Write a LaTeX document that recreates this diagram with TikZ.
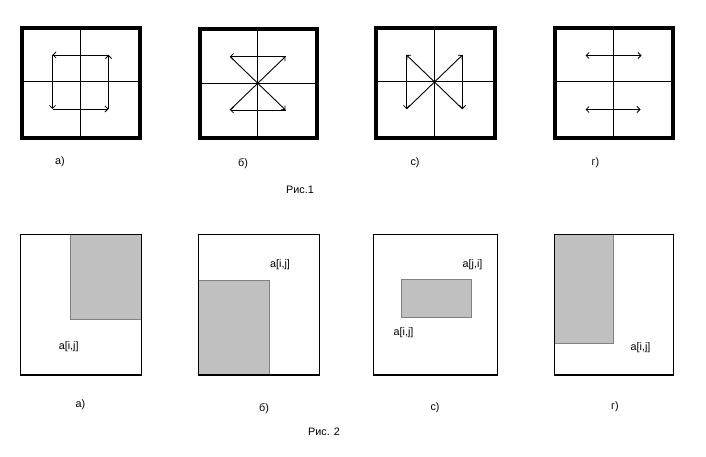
\documentclass[tikz,border=0pt]{standalone}
\usepackage{fontspec}
\setmainfont{Liberation Sans}
\usetikzlibrary{arrows.meta}
\begin{document}
\begin{tikzpicture}[x=1pt,y=-1pt,
  thickbox/.style={draw=black,line width=4pt},
  thinline/.style={draw=black,line width=1pt},
  arr/.style={draw=black,line width=0.9pt,-{Straight Barb[length=3pt,width=6pt,line width=0.8pt]}},
  darr/.style={draw=black,line width=0.9pt,{Straight Barb[length=3pt,width=6pt,line width=0.8pt]}-{Straight Barb[length=3pt,width=6pt,line width=0.8pt]}},
  outerbox/.style={draw=black,line width=1.3pt},
  grayrect/.style={fill={rgb,255:red,192;green,192;blue,192},draw={rgb,255:red,128;green,128;blue,128},line width=1.2pt},
  lbl/.style={font=\fontsize{10.8}{13}\selectfont,inner sep=0pt}]
\useasboundingbox (0,0) rectangle (706,457);
% ---------- Fig 1 ----------
% a
\draw[thickbox] (22,28) rectangle (140,138);
\draw[thinline] (80.5,28) -- (80.5,138) (22,82) -- (140,82);
\coordinate (a1) at (52.5,55);\coordinate (a2) at (108.5,55);
\coordinate (a3) at (52.5,109);\coordinate (a4) at (108.5,109);
\draw[arr] (a2) -- (a1);
\draw[arr] (a1) -- (a3);
\draw[arr] (a3) -- (a4);
\draw[arr] (a4) -- (a2);
% b
\draw[thickbox] (199.5,29) rectangle (317,138.5);
\draw[thinline] (257.5,29) -- (257.5,138.5) (199.5,83.5) -- (317,83.5);
\coordinate (b1) at (230,56.5);\coordinate (b2) at (285.5,56.5);
\coordinate (b3) at (230,110);\coordinate (b4) at (285.5,110);
\draw[arr] (b2) -- (b1);
\draw[arr] (b1) -- (b4);
\draw[arr] (b4) -- (b3);
\draw[arr] (b3) -- (b2);
% c
\draw[thickbox] (376,28) rectangle (494.5,138);
\draw[thinline] (434.5,28) -- (434.5,138) (376,82) -- (494.5,82);
\coordinate (c1) at (406.5,55);\coordinate (c2) at (462.5,55);
\coordinate (c3) at (406.5,109);\coordinate (c4) at (462.5,109);
\draw[arr] (c1) -- (c3);
\draw[arr] (c3) -- (c2);
\draw[arr] (c2) -- (c4);
\draw[arr] (c4) -- (c1);
% g
\draw[thickbox] (555,28) rectangle (672.5,138);
\draw[thinline] (613.5,28) -- (613.5,138) (555,82) -- (672.5,82);
\coordinate (g1) at (585.5,55.5);\coordinate (g2) at (641.5,55.5);
\coordinate (g3) at (585.5,109.5);\coordinate (g4) at (640.5,109.5);
\draw[darr] (g1) -- (g2);
\draw[darr] (g3) -- (g4);
\node[lbl] (la1) at (60,162) {а)};
\node[lbl] (lb1) at (243,164) {б)};
\node[lbl] (lc1) at (415,163) {с)};
\node[lbl] (lg1) at (595.5,163) {г)};
\node[lbl] (r1) at (300,190) {Рис.1};
% ---------- Fig 2 ----------
% a
\draw[grayrect] (70.3,234.3) rectangle (141.3,319.3);
\draw[outerbox] (20.7,234.3) rectangle (141.3,375);
\node[lbl] (ta) at (68.7,346.5) {a[i,j]};
% b
\draw[grayrect] (198.3,280.3) rectangle (269.3,375);
\draw[outerbox] (198.3,234.3) rectangle (319.3,375);
\node[lbl] (tb) at (280,265) {a[i,j]};
% c
\draw[outerbox] (373.7,234.3) rectangle (497.7,375);
\draw[grayrect] (401.3,279.3) rectangle (471.7,317.3);
\node[lbl] (tc1) at (472.5,265) {a[j,i]};
\node[lbl] (tc2) at (403.5,333) {a[i,j]};
% g
\draw[grayrect] (554.3,234.3) rectangle (613.3,343.3);
\draw[outerbox] (554.3,234.3) rectangle (673.7,375);
\node[lbl] (tg) at (640.5,347.5) {a[i,j]};
\node[lbl] (la2) at (80.5,405) {а)};
\node[lbl] (lb2) at (264,409) {б)};
\node[lbl] (lc2) at (435,407.5) {с)};
\node[lbl] (lg2) at (615,407) {г)};
\node[lbl] (r2) at (324,432) {Рис. 2};
\end{tikzpicture}
\end{document}
